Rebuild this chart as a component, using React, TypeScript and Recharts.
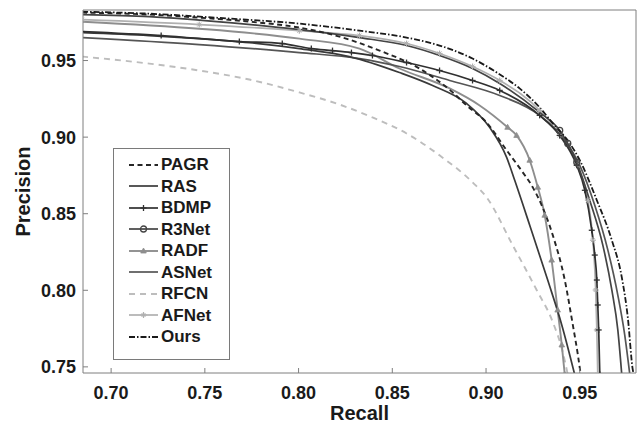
import React from 'react';
import { LineChart, Line, XAxis, YAxis, Legend, Label } from 'recharts';

const FONT = '"Liberation Sans", Arial, Helvetica, sans-serif';

const xTicks = [0.7, 0.75, 0.8, 0.85, 0.9, 0.95];
const yTicks = [0.75, 0.8, 0.85, 0.9, 0.95];
const xDomain = [0.685, 0.98];
const yDomain = [0.746, 0.983];

const oursRecall = [0.6845, 0.7203, 0.763, 0.8004, 0.8325, 0.8576, 0.8752, 0.8928, 0.9057, 0.9179, 0.9286, 0.9356, 0.9447, 0.95, 0.9591, 0.9671, 0.9724, 0.9756, 0.9783, 0.9788];
const oursPrecision = [0.9819, 0.9806, 0.9774, 0.9741, 0.9695, 0.965, 0.9598, 0.9513, 0.9422, 0.9318, 0.9194, 0.909, 0.8959, 0.8849, 0.8588, 0.8327, 0.8086, 0.7826, 0.748, 0.745];

const pagrRecall = [0.6845, 0.7203, 0.747, 0.7737, 0.8004, 0.8218, 0.8432, 0.8645, 0.8822, 0.8896, 0.9003, 0.911, 0.9196, 0.9249, 0.9297, 0.9356, 0.942, 0.9463, 0.949, 0.9505];
const pagrPrecision = [0.9813, 0.98, 0.978, 0.9754, 0.9715, 0.9656, 0.9565, 0.9448, 0.9292, 0.9207, 0.9096, 0.8914, 0.877, 0.8673, 0.8555, 0.836, 0.8067, 0.7774, 0.7578, 0.745];

const r3netRecall = [0.6845, 0.7203, 0.763, 0.8004, 0.8325, 0.8576, 0.8752, 0.8928, 0.9073, 0.9286, 0.9393, 0.9436, 0.9484, 0.9553, 0.9623, 0.9671, 0.9703, 0.9724];
const r3netPrecision = [0.98, 0.9787, 0.9748, 0.9702, 0.965, 0.9598, 0.9533, 0.9448, 0.935, 0.9161, 0.9044, 0.8959, 0.8836, 0.8588, 0.8295, 0.8002, 0.7741, 0.745];

const afnetRecall = [0.6845, 0.747, 0.8004, 0.8325, 0.8576, 0.8752, 0.8928, 0.9073, 0.9286, 0.9393, 0.9484, 0.9543, 0.957, 0.9585, 0.9591, 0.9596];
const afnetPrecision = [0.9767, 0.9735, 0.9695, 0.9663, 0.9611, 0.9546, 0.9461, 0.937, 0.9174, 0.9011, 0.8816, 0.8588, 0.8327, 0.8002, 0.7741, 0.745];

const bdmpRecall = [0.6845, 0.7267, 0.7684, 0.7913, 0.8068, 0.8181, 0.8282, 0.8394, 0.8576, 0.8752, 0.8928, 0.9073, 0.9286, 0.9393, 0.9484, 0.9527, 0.9564, 0.958, 0.9591, 0.9596, 0.9601, 0.9607];
const bdmpPrecision = [0.9689, 0.9663, 0.9624, 0.9611, 0.9578, 0.9565, 0.9552, 0.9533, 0.9487, 0.9435, 0.937, 0.9305, 0.9142, 0.9011, 0.8816, 0.8653, 0.8392, 0.823, 0.8067, 0.7904, 0.7741, 0.745];

const rasRecall = [0.6845, 0.7203, 0.747, 0.7737, 0.8004, 0.8271, 0.8538, 0.8715, 0.8896, 0.9019, 0.911, 0.9153, 0.9233, 0.9329, 0.9404, 0.9473];
const rasPrecision = [0.9682, 0.9663, 0.9643, 0.9617, 0.9578, 0.9526, 0.9422, 0.9337, 0.922, 0.9064, 0.8868, 0.8718, 0.8425, 0.8067, 0.7774, 0.745];

const radfRecall = [0.6845, 0.747, 0.8004, 0.8325, 0.8538, 0.8806, 0.8966, 0.9115, 0.9163, 0.9233, 0.9276, 0.9313, 0.935, 0.9382, 0.9404, 0.942];
const radfPrecision = [0.9754, 0.9708, 0.9643, 0.9578, 0.9448, 0.9318, 0.9207, 0.9064, 0.9011, 0.8849, 0.8673, 0.849, 0.8197, 0.7871, 0.7643, 0.745];

const asnetRecall = [0.6845, 0.747, 0.8004, 0.8325, 0.8538, 0.8806, 0.9073, 0.9286, 0.942, 0.95, 0.958, 0.965, 0.9703, 0.974, 0.9767];
const asnetPrecision = [0.965, 0.9604, 0.9552, 0.9513, 0.9461, 0.937, 0.9272, 0.9142, 0.8979, 0.8816, 0.8555, 0.8262, 0.7969, 0.7708, 0.745];

const rfcnRecall = [0.6845, 0.7203, 0.747, 0.7737, 0.8004, 0.8218, 0.8394, 0.8576, 0.8752, 0.8928, 0.9003, 0.9142, 0.927, 0.9356, 0.9409, 0.9436];
const rfcnPrecision = [0.9526, 0.948, 0.9435, 0.9376, 0.9292, 0.9213, 0.9129, 0.9024, 0.8881, 0.8705, 0.8607, 0.8295, 0.8002, 0.7793, 0.7598, 0.745];

type MarkerKind = 'none' | 'plus' | 'circle' | 'triangle' | 'star';

interface Series {
  name: string;
  recall: number[];
  precision: number[];
  color: string;
  dash?: string;
  width: number;
  marker: MarkerKind;
  markerFrom?: number;
  markerTo?: number;
}

const toPoints = (r: number[], p: number[]) => r.map((x, i) => ({ x, y: p[i] }));

const legendSeries: Series[] = [
  { name: 'PAGR', recall: pagrRecall, precision: pagrPrecision, color: '#262626', dash: '5 3.5', width: 1.9, marker: 'none' },
  { name: 'RAS', recall: rasRecall, precision: rasPrecision, color: '#3a3a3a', width: 1.7, marker: 'none' },
  { name: 'BDMP', recall: bdmpRecall, precision: bdmpPrecision, color: '#303030', width: 1.7, marker: 'plus' },
  { name: 'R3Net', recall: r3netRecall, precision: r3netPrecision, color: '#444444', width: 1.7, marker: 'circle', markerFrom: 0.935, markerTo: 0.95 },
  { name: 'RADF', recall: radfRecall, precision: radfPrecision, color: '#8e8e8e', width: 1.9, marker: 'triangle', markerFrom: 0.9 },
  { name: 'ASNet', recall: asnetRecall, precision: asnetPrecision, color: '#555555', width: 1.7, marker: 'none' },
  { name: 'RFCN', recall: rfcnRecall, precision: rfcnPrecision, color: '#bdbdbd', dash: '6 5', width: 1.9, marker: 'none' },
  { name: 'AFNet', recall: afnetRecall, precision: afnetPrecision, color: '#b0b0b0', width: 1.7, marker: 'star' },
  { name: 'Ours', recall: oursRecall, precision: oursPrecision, color: '#1a1a1a', dash: '6 2 1.5 2', width: 1.8, marker: 'none' },
];

const drawOrder = ['RFCN', 'AFNet', 'RADF', 'ASNet', 'RAS', 'BDMP', 'R3Net', 'PAGR', 'Ours'];

function MarkerShape({ kind, cx, cy, color }: { kind: MarkerKind; cx: number; cy: number; color: string }) {
  if (kind === 'plus') {
    return (
      <g>
        <line x1={cx - 3} y1={cy} x2={cx + 3} y2={cy} stroke={color} strokeWidth={1.3} />
        <line x1={cx} y1={cy - 3} x2={cx} y2={cy + 3} stroke={color} strokeWidth={1.3} />
      </g>
    );
  }
  if (kind === 'star') {
    return (
      <g>
        <line x1={cx - 3} y1={cy} x2={cx + 3} y2={cy} stroke={color} strokeWidth={1.2} />
        <line x1={cx} y1={cy - 3} x2={cx} y2={cy + 3} stroke={color} strokeWidth={1.2} />
        <line x1={cx - 2} y1={cy - 2} x2={cx + 2} y2={cy + 2} stroke={color} strokeWidth={1} />
        <line x1={cx - 2} y1={cy + 2} x2={cx + 2} y2={cy - 2} stroke={color} strokeWidth={1} />
      </g>
    );
  }
  if (kind === 'circle') {
    return <circle cx={cx} cy={cy} r={3} fill="none" stroke={color} strokeWidth={1.3} />;
  }
  if (kind === 'triangle') {
    return <polygon points={`${cx},${cy - 3} ${cx - 2.8},${cy + 2} ${cx + 2.8},${cy + 2}`} fill={color} stroke={color} strokeWidth={0.8} />;
  }
  return null;
}

function LegendBox() {
  return (
    <div
      style={{
        boxSizing: 'border-box',
        width: 117,
        height: 212,
        border: '1px solid #7a7a7a',
        background: '#fff',
        padding: '5px 0 0 14px',
      }}
    >
      {legendSeries.map((s) => (
        <div key={s.name} style={{ display: 'flex', alignItems: 'center', height: 21.5 }}>
          <svg width={31} height={14} style={{ display: 'block' }}>
            <line x1={1} y1={7} x2={30} y2={7} stroke={s.color} strokeWidth={s.width} strokeDasharray={s.dash} />
            <MarkerShape kind={s.marker} cx={15.5} cy={7} color={s.color} />
          </svg>
          <span
            style={{
              marginLeft: 2,
              fontFamily: FONT,
              fontWeight: 700,
              fontSize: 17,
              color: '#1a1a1a',
              lineHeight: '21.5px',
            }}
          >
            {s.name}
          </span>
        </div>
      ))}
    </div>
  );
}

const tickStyle = { fill: '#1a1a1a', fontSize: 18, fontWeight: 700, fontFamily: FONT };
const axisColor = '#7f7f7f';

export default function App() {
  const ordered = drawOrder.map((n) => legendSeries.find((s) => s.name === n)!);
  return (
    <div style={{ position: 'absolute', left: 0, top: 0, width: 643, height: 427, background: '#fff' }}>
      <LineChart width={643} height={427} margin={{ top: 9, right: 6, left: 0, bottom: 0 }}>
        <XAxis
          dataKey="x"
          type="number"
          domain={xDomain}
          allowDataOverflow
          ticks={xTicks}
          interval={0}
          tickFormatter={(v: number) => v.toFixed(2)}
          height={54}
          tickSize={-5}
          tickMargin={18}
          stroke={axisColor}
          tick={tickStyle}
        >
          <Label
            value="Recall"
            position="insideBottom"
            offset={7}
            style={{ fill: '#1a1a1a', fontSize: 20, fontWeight: 700, fontFamily: FONT }}
          />
        </XAxis>
        <XAxis
          xAxisId="top"
          orientation="top"
          dataKey="x"
          type="number"
          domain={xDomain}
          allowDataOverflow
          ticks={xTicks}
          interval={0}
          height={1}
          tickSize={-5}
          tick={false}
          stroke={axisColor}
        />
        <YAxis
          type="number"
          domain={yDomain}
          allowDataOverflow
          ticks={yTicks}
          interval={0}
          tickFormatter={(v: number) => v.toFixed(2)}
          width={83}
          tickSize={-5}
          tickMargin={12}
          stroke={axisColor}
          tick={tickStyle}
        >
          <Label
            content={(props: any) => {
              const vb = props.viewBox || { x: 0, y: 10, width: 83, height: 363 };
              const lx = vb.x + 30;
              const ly = vb.y + vb.height / 2;
              return (
                <text
                  x={lx}
                  y={ly}
                  transform={`rotate(-90 ${lx} ${ly})`}
                  textAnchor="middle"
                  fill="#1a1a1a"
                  fontSize={20}
                  fontWeight={700}
                  fontFamily={FONT}
                >
                  Precision
                </text>
              );
            }}
          />
        </YAxis>
        <YAxis
          yAxisId="right"
          orientation="right"
          type="number"
          domain={yDomain}
          allowDataOverflow
          ticks={yTicks}
          interval={0}
          width={1}
          tickSize={-5}
          tick={false}
          stroke={axisColor}
        />
        {ordered.map((s) => (
          <Line
            key={s.name}
            name={s.name}
            data={toPoints(s.recall, s.precision)}
            dataKey="y"
            type="monotone"
            stroke={s.color}
            strokeWidth={s.width}
            strokeDasharray={s.dash}
            isAnimationActive={false}
            activeDot={false}
            dot={
              s.marker === 'none'
                ? false
                : (p: any) => {
                    const rx = p.payload ? p.payload.x : 0;
                    const show =
                      (s.markerFrom === undefined || rx >= s.markerFrom) &&
                      (s.markerTo === undefined || rx <= s.markerTo);
                    return show ? (
                      <MarkerShape key={`${s.name}-${p.index}`} kind={s.marker} cx={p.cx} cy={p.cy} color={s.color} />
                    ) : (
                      <g key={`${s.name}-${p.index}`} />
                    );
                  }
            }
          />
        ))}
        <Legend
          layout="vertical"
          align="center"
          verticalAlign="middle"
          wrapperStyle={{ left: 113, top: 148, width: 117, height: 212 }}
          content={() => <LegendBox />}
        />
      </LineChart>
    </div>
  );
}
